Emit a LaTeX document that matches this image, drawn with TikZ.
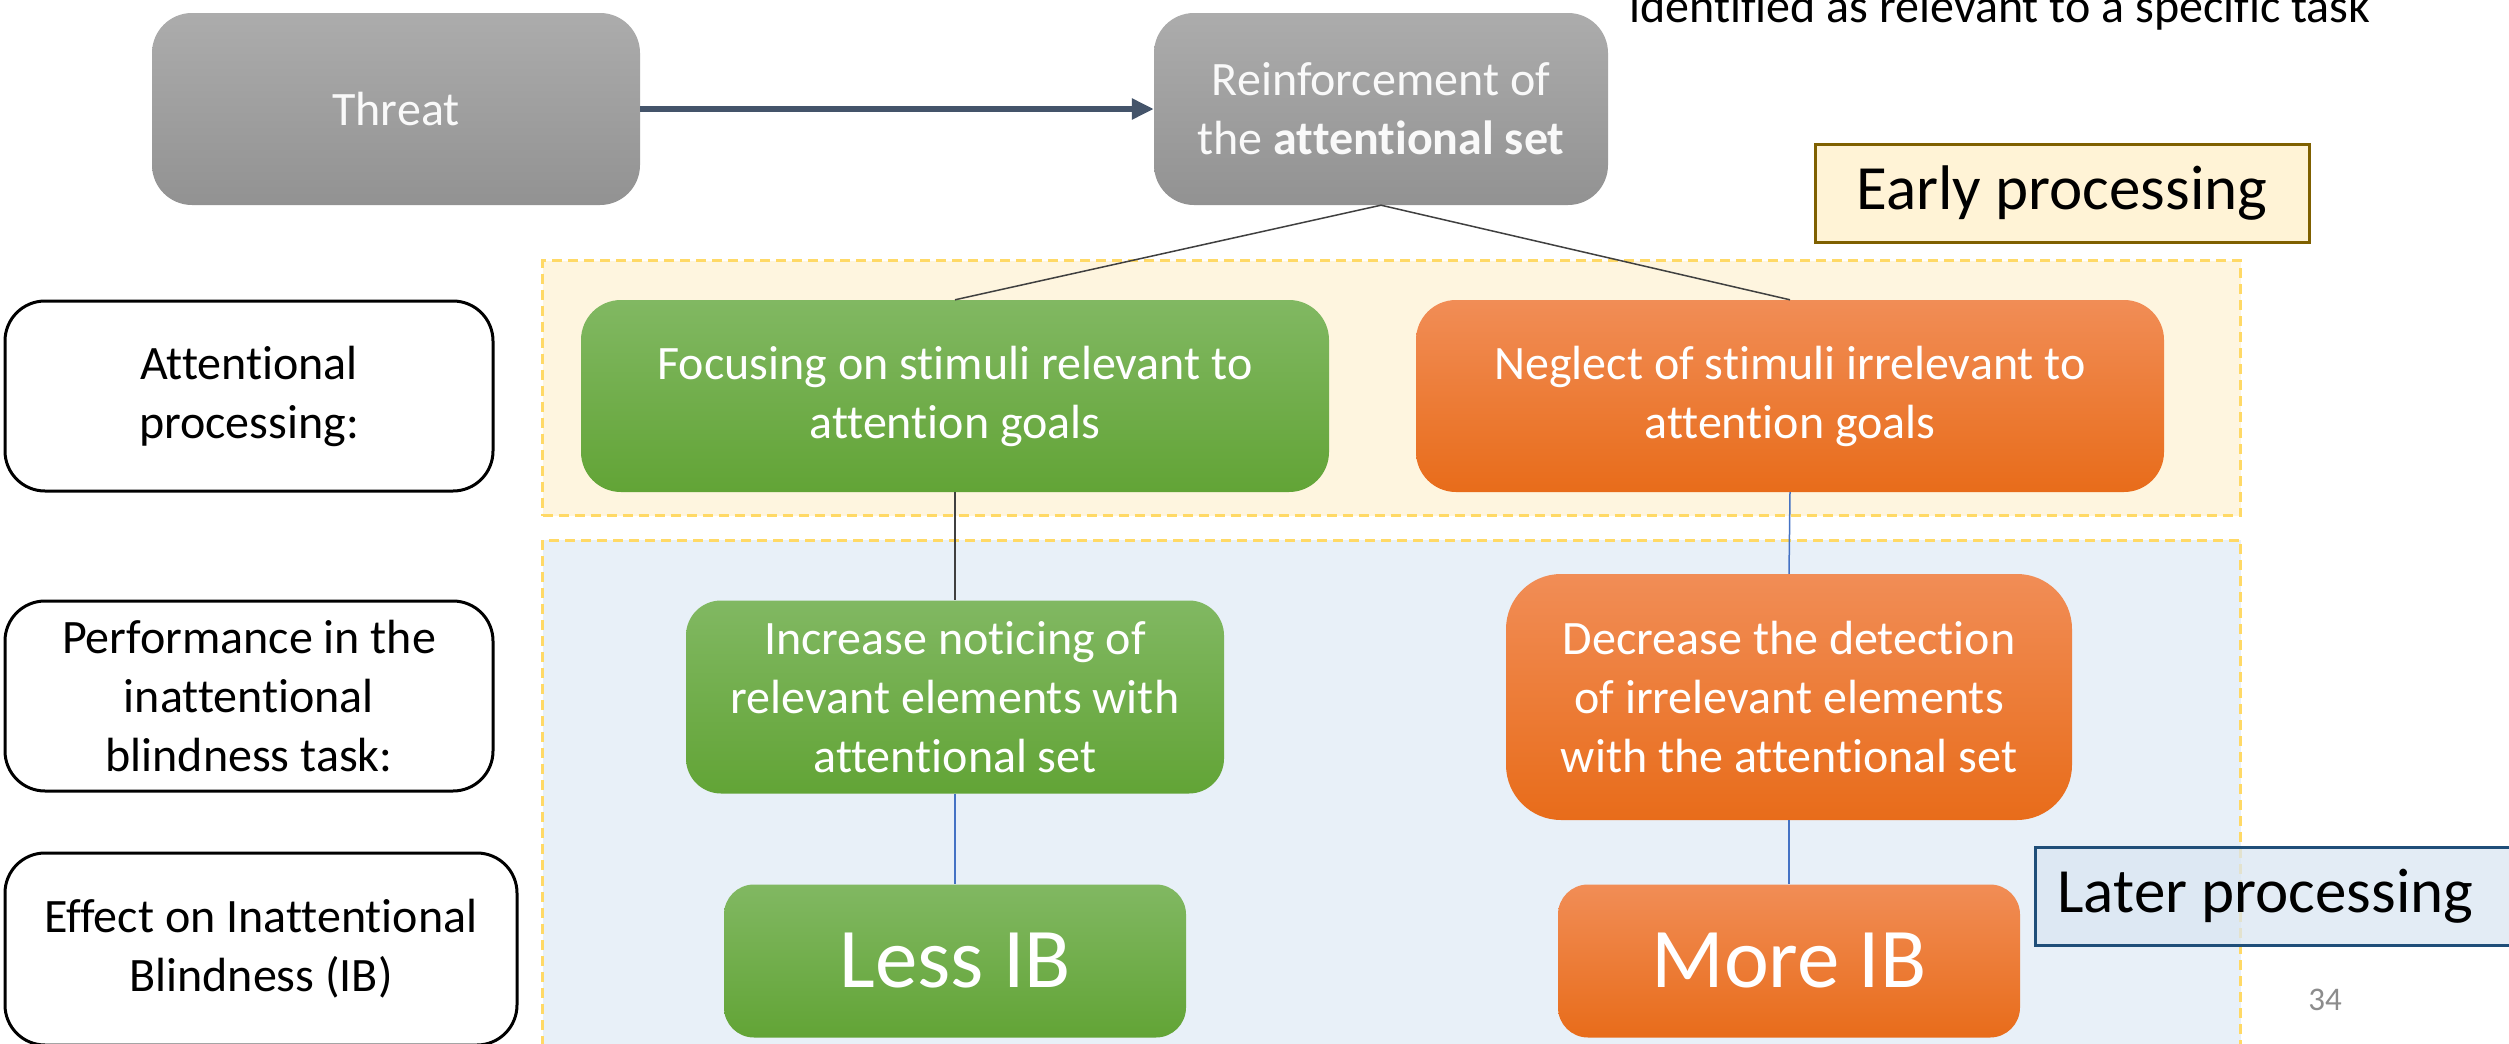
\documentclass[tikz,border=0pt]{standalone}
\usepackage{fontspec}
\setmainfont{Carlito}[Ligatures=CommonOff]
\usetikzlibrary{arrows.meta}

\definecolor{graytop}{HTML}{ACACAC}
\definecolor{graybot}{HTML}{929292}
\definecolor{greentop}{HTML}{81B862}
\definecolor{greenbot}{HTML}{62A436}
\definecolor{orangetop}{HTML}{F18D56}
\definecolor{orangebot}{HTML}{E86C1A}
\definecolor{earlyfill}{HTML}{FEF5DF}
\definecolor{laterfill}{HTML}{E8F0F8}
\definecolor{regionline}{HTML}{FFD966}
\definecolor{earlytagfill}{HTML}{FFF3D6}
\definecolor{earlytagline}{HTML}{7F6000}
\definecolor{latertagfill}{HTML}{DAE6F2}
\definecolor{latertagline}{HTML}{1F4E79}
\definecolor{arrowcol}{HTML}{44546A}
\definecolor{linkblue}{HTML}{4472C4}

\begin{document}
\begin{tikzpicture}[x=1pt, y=-1pt, every node/.style={align=center, inner sep=0pt}]

\tikzstyle{txt}=[font=\fontsize{48}{59}\selectfont]
\tikzstyle{graybox}=[txt, rounded corners=40pt, top color=graytop, bottom color=graybot, text=white!95!gray]
\tikzstyle{greenbox}=[txt, rounded corners=40pt, top color=greentop, bottom color=greenbot, text=white]
\tikzstyle{orangebox}=[txt, rounded corners=40pt, top color=orangetop, bottom color=orangebot, text=white]
\tikzstyle{label}=[txt, draw=black, line width=3pt, rounded corners=40pt, fill=white, minimum width=488pt, minimum height=190pt]
\tikzstyle{region}=[draw=regionline, line width=3pt, dash pattern=on 10pt off 6pt]
\tikzstyle{tag}=[font=\fontsize{63}{70}\selectfont, line width=3pt, minimum height=98pt]
\tikzstyle{link}=[line width=1.5pt, draw=black!75]
\tikzstyle{bluelink}=[line width=1.5pt, draw=linkblue]
%\tikzstyle{bigtxt}=[font=\fontsize{85}{100}\selectfont]

\useasboundingbox (0,0) rectangle (2509,1044);
\fill[white] (0,0) rectangle (2509,1044);

% background regions
\node[region, fill=earlyfill, minimum width=1698pt, minimum height=255pt] (early) at (1391.5,388) {};
\node[region, fill=laterfill, minimum width=1698pt, minimum height=540pt] (later) at (1391.5,810) {};

\node at (1629,23) [anchor=base west, font=\fontsize{48}{56}\selectfont] (note) {identified as relevant to a specific task};

\node[graybox, minimum width=488pt, minimum height=192pt] (threat) at (396,109) {Threat};
\node[graybox, minimum width=454pt, minimum height=192pt] (reinf) at (1381,109) {Reinforcement of\\the \textbf{attentional set}};

\node[label] (lblattn) at (249,396) {Attentional\\processing:};
\node[label] (lblperf) at (249,696) {Performance in the\\inattentional\\blindness task:};
\node[label, minimum width=512pt, minimum height=192pt] (lbleffect) at (261,949) {Effect on Inattentional\\Blindness (IB)};

\node[greenbox, minimum width=748pt, minimum height=192pt] (focus) at (955,396) {Focusing on stimuli relevant to\\attention goals};
\node[orangebox, minimum width=748pt, minimum height=192pt] (neglect) at (1790,396) {Neglect of stimuli irrelevant to\\attention goals};
\node[greenbox, minimum width=538pt, minimum height=193pt, rounded corners=35pt] (notice) at (955,697) {Increase noticing of\\relevant elements with\\attentional set};
\node[orangebox, minimum width=566pt, minimum height=246pt, rounded corners=55pt] (detect) at (1789,697) {Decrease the detection\\of irrelevant elements\\with the attentional set};
\node[greenbox, minimum width=462pt, minimum height=153pt, rounded corners=30pt, font=\fontsize{85}{100}\selectfont] (less) at (955,961) {Less IB};
\node[orangebox, minimum width=462pt, minimum height=153pt, rounded corners=30pt, font=\fontsize{85}{100}\selectfont] (more) at (1789,961) {More IB};

\node[tag, draw=earlytagline, fill=earlytagfill, minimum width=494pt] (earlytag) at (2062,193) {Early processing};
\node[tag, draw=latertagline, fill=latertagfill, fill opacity=0.75, text opacity=1, anchor=west, inner xsep=22pt] (latertag) at (2034,896) {\makebox[456pt][l]{Later processing}};

\node[text=black!45, font=\fontsize{33}{40}\selectfont] (pagenum) at (2325,1000) {34};

% connectors
\draw[-{Triangle[length=22pt,width=20pt]}, line width=6pt, arrowcol] (threat) -- (reinf);
\draw[link] (reinf.south) -- (focus.north);
\draw[link] (reinf.south) -- (neglect.north);
\draw[link] (focus.south) -- (notice.north);
\draw[bluelink] (notice.south) -- (less.north);
\draw[bluelink] (neglect.south) -- (detect.north);
\draw[bluelink] (detect.south) -- (more.north);

\end{tikzpicture}
\end{document}
